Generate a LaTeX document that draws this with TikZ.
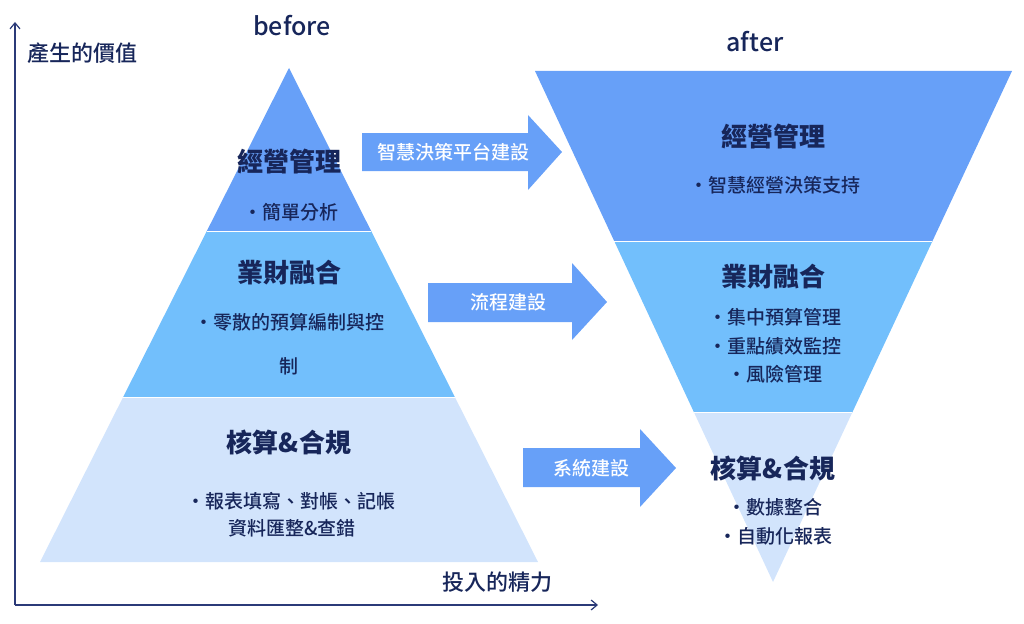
\documentclass[tikz,border=0pt]{standalone}
\usepackage{fontspec}
\setmainfont{Noto Sans CJK TC}
\newfontfamily\medfont{Noto Sans CJK TC}[UprightFont=* Medium]
\usetikzlibrary{calc,arrows.meta}
\definecolor{topblue}{HTML}{67A0F8}
\definecolor{midblue}{HTML}{72BFFC}
\definecolor{lowblue}{HTML}{D2E4FC}
\definecolor{navy}{HTML}{17265A}
\definecolor{axisnavy}{HTML}{2B3A78}
\tikzset{
  title/.style={text=navy,font=\fontsize{26}{30}\selectfont\bfseries,inner sep=0pt},
  item/.style={text=navy,font=\medfont\fontsize{19}{23}\selectfont,inner sep=0pt},
  lbl/.style={text=navy,font=\medfont\fontsize{22}{26}\selectfont,inner sep=0pt},
  arrlbl/.style={text=white,font=\medfont\fontsize{19}{23}\selectfont,inner sep=0pt},
  band/.style={draw=white,line width=1pt},
  axis/.style={draw=axisnavy,line width=1.2pt,-{Straight Barb[length=6pt,width=10pt]}}
}
\begin{document}
\begin{tikzpicture}[x=1pt,y=-1pt]
\useasboundingbox (0,0) rectangle (1024,623);
% axes
\coordinate (O) at (15,605);
\coordinate (Ytip) at (15,22);
\coordinate (Xtip) at (598,605);
\draw[axis] (O) -- (Ytip);
\draw[axis] (O) -- (Xtip);
\node[lbl,anchor=west] (ylab) at (27,53) {產生的價值};
\node[lbl] (xlab) at (497,582) {投入的精力};
\node[text=navy,font=\medfont\fontsize{25}{30}\selectfont,inner sep=0pt] (before) at (292,26) {before};
\node[text=navy,font=\medfont\fontsize{25}{30}\selectfont,inner sep=0pt] (after) at (755,42) {after};
% left pyramid
\coordinate (LA) at (289,68);
\coordinate (LL) at (40,562);
\coordinate (LR) at (538,562);
\coordinate (L1l) at ($(LA)!0.33!(LL)$);
\coordinate (L1r) at ($(LA)!0.33!(LR)$);
\coordinate (L2l) at ($(LA)!0.666!(LL)$);
\coordinate (L2r) at ($(LA)!0.666!(LR)$);
\fill[topblue] (LA) -- (L1r) -- (L1l) -- cycle;
\fill[midblue] (L1l) -- (L1r) -- (L2r) -- (L2l) -- cycle;
\fill[lowblue] (L2l) -- (L2r) -- (LR) -- (LL) -- cycle;
\draw[band] (L1l) -- (L1r);
\draw[band] (L2l) -- (L2r);
% right inverted pyramid
\coordinate (RL) at (535,71);
\coordinate (RR) at (1012,71);
\coordinate (RA) at (773,582);
\coordinate (R1l) at ($(RL)!0.333!(RA)$);
\coordinate (R1r) at ($(RR)!0.333!(RA)$);
\coordinate (R2l) at ($(RL)!0.668!(RA)$);
\coordinate (R2r) at ($(RR)!0.668!(RA)$);
\fill[topblue] (RL) -- (RR) -- (R1r) -- (R1l) -- cycle;
\fill[midblue] (R1l) -- (R1r) -- (R2r) -- (R2l) -- cycle;
\fill[lowblue] (R2l) -- (R2r) -- (RA) -- cycle;
\draw[band] (R1l) -- (R1r);
\draw[band] (R2l) -- (R2r);
% arrows
\fill[topblue] (362,133) -- (528,133) -- (528,115) -- (562,152) -- (528,190) -- (528,171) -- (362,171) -- cycle;
\fill[topblue] (428,283) -- (572,283) -- (572,263) -- (607,302) -- (572,340) -- (572,322) -- (428,322) -- cycle;
\fill[topblue] (523,448) -- (640,448) -- (640,429) -- (676,468) -- (640,507) -- (640,487) -- (523,487) -- cycle;
\node[arrlbl] (a1) at (453,152) {智慧決策平台建設};
\node[arrlbl] (a2) at (508,302) {流程建設};
\node[arrlbl] (a3) at (591,468) {系統建設};
% left texts
\node[title] (lt1) at (289,162) {經營管理};
\node[item] (li1) at (291,212) {・簡單分析};
\node[title] (lt2) at (289,273) {業財融合};
\node[item] (li2) at (289,322) {・零散的預算編制與控};
\node[item] (li2b) at (289,366) {制};
\node[title] (lt3) at (289,442) {核算\&合規};
\node[item] (li3) at (291,501) {・報表填寫、對帳、記帳};
\node[item] (li3b) at (292,528) {資料匯整\&查錯};
% right texts
\node[title] (rt1) at (773,137) {經營管理};
\node[item] (ri1) at (775,185) {・智慧經營決策支持};
\node[title] (rt2) at (773,277) {業財融合};
\node[item] (ri2) at (775,317) {・集中預算管理};
\node[item] (ri3) at (775,346) {・重點績效監控};
\node[item] (ri4) at (775,374) {・風險管理};
\node[title] (rt3) at (773,468) {核算\&合規};
\node[item] (ri5) at (775,507) {・數據整合};
\node[item] (ri6) at (775,536) {・自動化報表};
\end{tikzpicture}
\end{document}
